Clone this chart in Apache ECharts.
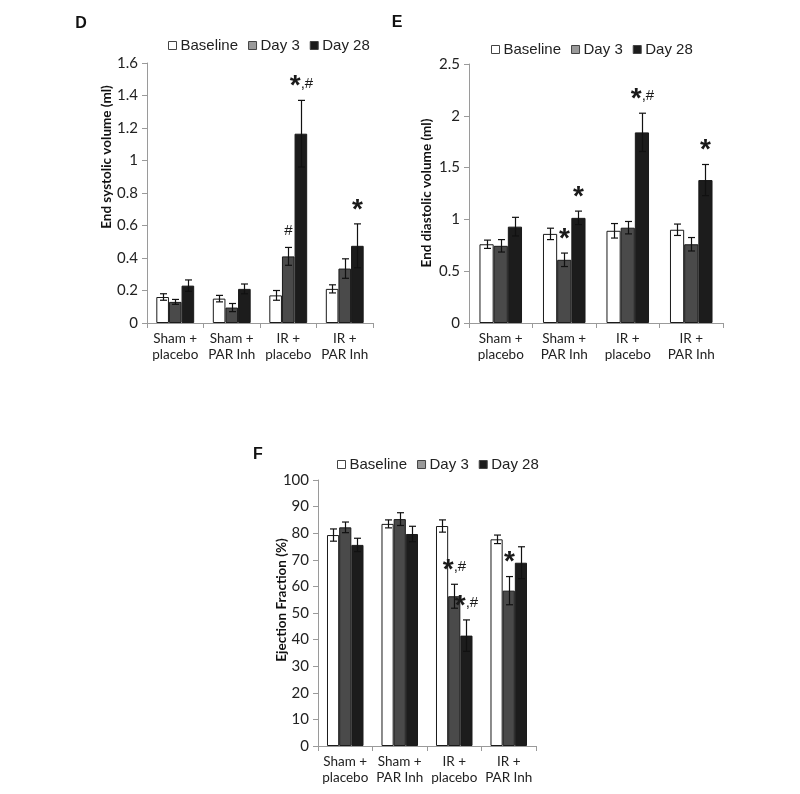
<!DOCTYPE html>
<html>
<head>
<meta charset="utf-8">
<script src="https://cdn.jsdelivr.net/npm/echarts@6/dist/echarts.min.js"></script>
<style>html,body{margin:0;padding:0;background:#fff;}#c{width:800px;height:794px;}</style>
</head>
<body>
<div id="c"></div>
<script>
// ---------- data ----------
const categories = ['Sham +\nplacebo', 'Sham +\nPAR Inh', 'IR +\nplacebo', 'IR +\nPAR Inh'];
const seriesNames = ['Baseline', 'Day 3', 'Day 28'];

// Panel D: End systolic volume (ml)
const esvBaseline = [0.16, 0.15, 0.17, 0.21];
const esvBaselineErr = [0.02, 0.02, 0.03, 0.025];
const esvDay3 = [0.13, 0.095, 0.41, 0.335];
const esvDay3Err = [0.015, 0.025, 0.055, 0.06];
const esvDay28 = [0.23, 0.21, 1.165, 0.475];
const esvDay28Err = [0.035, 0.03, 0.205, 0.135];
const esvDay3Mark = ['', '', '#', ''];
const esvDay28Mark = ['', '', '*,#', '*'];

// Panel E: End diastolic volume (ml)
const edvBaseline = [0.76, 0.86, 0.89, 0.90];
const edvBaselineErr = [0.04, 0.055, 0.07, 0.055];
const edvDay3 = [0.745, 0.61, 0.92, 0.76];
const edvDay3Err = [0.06, 0.065, 0.06, 0.065];
const edvDay28 = [0.93, 1.015, 1.84, 1.38];
const edvDay28Err = [0.09, 0.065, 0.185, 0.15];
const edvDay3Mark = ['', '*', '', ''];
const edvDay28Mark = ['', '*', '*,#', '*'];

// Panel F: Ejection Fraction (%)
const efBaseline = [79.3, 83.5, 82.7, 77.7];
const efBaselineErr = [2.3, 1.5, 2.3, 1.6];
const efDay3 = [82.2, 85.3, 56.3, 58.4];
const efDay3Err = [2.0, 2.4, 4.5, 5.3];
const efDay28 = [75.6, 79.7, 41.5, 68.9];
const efDay28Err = [2.5, 2.9, 5.9, 6.0];
const efDay3Mark = ['', '', '*,#', '*'];
const efDay28Mark = ['', '', '*,#', ''];

// ---------- styling ----------
const GAP = 0.33;
const barColors = ['#ffffff', '#4a4a4a', '#1c1c1c'];
const legendColors = ['#ffffff', '#9a9a9a', '#1c1c1c'];
const tickFont = 'Lato';
const axisColor = '#9a9a9a';

const panels = [
  {grid: {left: 147, top: 63, width: 226, height: 260}, max: 1.6, interval: 0.2,
   data: [[esvBaseline, esvBaselineErr, []], [esvDay3, esvDay3Err, esvDay3Mark], [esvDay28, esvDay28Err, esvDay28Mark]]},
  {grid: {left: 469, top: 64, width: 254, height: 259}, max: 2.5, interval: 0.5,
   data: [[edvBaseline, edvBaselineErr, []], [edvDay3, edvDay3Err, edvDay3Mark], [edvDay28, edvDay28Err, edvDay28Mark]]},
  {grid: {left: 318, top: 480, width: 218, height: 266}, max: 100, interval: 10,
   data: [[efBaseline, efBaselineErr, []], [efDay3, efDay3Err, efDay3Mark], [efDay28, efDay28Err, efDay28Mark]]}
];

const grids = [], xAxes = [], yAxes = [], series = [];
panels.forEach((p, pi) => {
  grids.push(Object.assign({containLabel: false}, p.grid));
  xAxes.push({
    type: 'category', gridIndex: pi, data: categories,
    axisLine: {lineStyle: {color: axisColor, width: 1}},
    axisTick: {show: true, length: 5, lineStyle: {color: axisColor}},
    axisLabel: {fontFamily: tickFont, fontSize: 13.5, color: '#222', lineHeight: 16, margin: 8, interval: 0}
  });
  yAxes.push({
    type: 'value', gridIndex: pi, min: 0, max: p.max, interval: p.interval,
    axisLine: {show: true, lineStyle: {color: axisColor, width: 1}},
    axisTick: {show: true, length: 5, lineStyle: {color: axisColor}},
    splitLine: {show: false},
    axisLabel: {fontFamily: tickFont, fontSize: 15, color: '#222', margin: 9}
  });
  p.data.forEach((d, k) => {
    series.push({
      type: 'bar', name: seriesNames[k], xAxisIndex: pi, yAxisIndex: pi,
      data: d[0], barGap: '0%', barCategoryGap: (GAP * 100) + '%',
      itemStyle: {color: barColors[k], borderColor: '#1a1a1a', borderWidth: 1},
      animation: false
    });
  });
  p.data.forEach((d, k) => {
    const marks = d[2];
    series.push({
      type: 'custom', xAxisIndex: pi, yAxisIndex: pi, z: 5, animation: false,
      data: d[0].map((v, i) => [i, v, d[1][i]]),
      renderItem: function (params, api) {
        const i = api.value(0), m = api.value(1), e = api.value(2);
        const c = api.coord([i, m]);
        const band = api.size([1, 0])[0];
        const bw = band * (1 - GAP) / 3;
        const x = Math.round(c[0] + (k - 1) * bw) + 0.5;
        const top = api.coord([i, m + e])[1];
        const bot = api.coord([i, m - e])[1];
        const cap = 3.5;
        const ls = {stroke: '#111', lineWidth: 1.2};
        const children = [
          {type: 'line', shape: {x1: x, y1: top, x2: x, y2: bot}, style: ls},
          {type: 'line', shape: {x1: x - cap, y1: top, x2: x + cap, y2: top}, style: ls},
          {type: 'line', shape: {x1: x - cap, y1: bot, x2: x + cap, y2: bot}, style: ls}
        ];
        const mk = marks[params.dataIndex];
        if (mk) {
          const parts = mk.split(',');
          let txt = '';
          if (parts[0] === '*') txt += '{s|*}';
          else if (parts[0] === '#') txt += '{h|#}';
          if (parts.length > 1) txt += '{h|,#}';
          children.push({
            type: 'text', x: x, y: top - 4,
            style: {
              text: txt, align: 'center', verticalAlign: 'bottom',
              rich: {
                s: {fontFamily: 'Liberation Sans', fontSize: 28, fontWeight: 'bold', fill: '#1a1a1a', lineHeight: 20},
                h: {fontFamily: 'Liberation Sans', fontSize: 15, fill: '#1a1a1a', lineHeight: 20, padding: [0, 0, 6, 0]}
              }
            }
          });
        }
        return {type: 'group', children: children};
      }
    });
  });
});

function legendFor(left, top) {
  return {
    left: left, top: top, itemWidth: 8, itemHeight: 8, itemGap: 10, icon: 'rect',
    textStyle: {fontFamily: 'Liberation Sans', fontSize: 15, color: '#222', padding: [0, 0, 0, -1]},
    selectedMode: false,
    data: seriesNames.map((n, k) => ({name: n, itemStyle: {color: legendColors[k], borderColor: '#444', borderWidth: 1}}))
  };
}

function title(x, y, txt) {
  return {type: 'text', x: x, y: y, rotation: Math.PI / 2,
    style: {text: txt, fontFamily: 'Lato', fontWeight: 'bold', fontSize: 13.5, fill: '#111', align: 'center', verticalAlign: 'middle'}};
}
function letter(x, y, txt) {
  return {type: 'text', x: x, y: y,
    style: {text: txt, fontFamily: 'Liberation Sans', fontWeight: 'bold', fontSize: 16, fill: '#111', align: 'center', verticalAlign: 'middle'}};
}

const chart = echarts.init(document.getElementById('c'), null, {renderer: 'canvas'});
chart.setOption({
  backgroundColor: '#ffffff',
  animation: false,
  grid: grids, xAxis: xAxes, yAxis: yAxes, series: series,
  legend: [legendFor(163, 33), legendFor(486, 37), legendFor(332, 452)],
  graphic: [
    title(107, 157, 'End systolic volume (ml)'),
    title(427, 193, 'End diastolic volume (ml)'),
    title(282, 600, 'Ejection Fraction (%)'),
    letter(81, 24, 'D'), letter(397, 23, 'E'), letter(258, 455, 'F')
  ]
});
</script>
</body>
</html>
